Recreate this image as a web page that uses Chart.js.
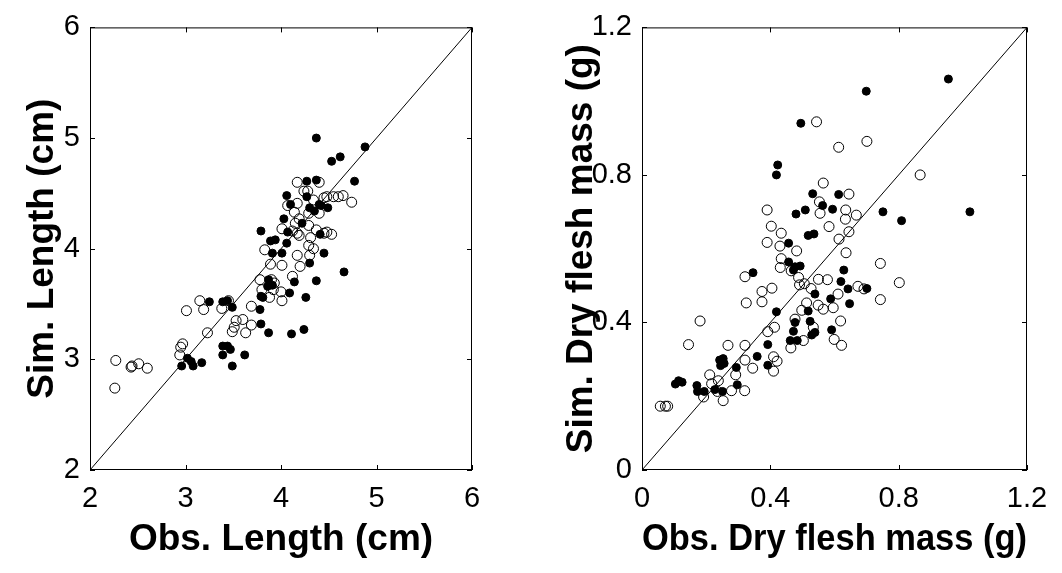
<!DOCTYPE html>
<html>
<head>
<meta charset="utf-8">
<script src="https://cdn.jsdelivr.net/npm/chart.js@4/dist/chart.umd.min.js"></script>
<style>
    body { margin: 0; background: #fff; }
    .panel { position: absolute; top: 0; width: 531px; height: 573px; }
</style>
</head>
<body>
<div class="panel" style="left:0"><canvas id="lengthChart" width="531" height="573"></canvas></div>
<div class="panel" style="left:531px"><canvas id="massChart" width="531" height="573"></canvas></div>
<script>
// shell length (cm): observed vs simulated
const lengthTicks = [2, 3, 4, 5, 6];
const lenObsFilled = [4.37, 4.88, 4.53, 4.62, 4.77, 4.27, 4.37, 4.06, 4.27, 4.10, 4.30, 4.40, 4.35, 4.42, 4.49, 4.41, 4.03, 4.07, 4.22, 3.79, 3.89, 3.94, 4.06, 3.91, 4.01, 4.45, 4.30, 4.66, 3.87, 4.14, 4.37, 3.79, 4.09, 4.26, 3.78, 3.79, 3.87, 4.11, 4.24, 3.25, 3.39, 3.44, 3.49, 3.39, 3.44, 3.47, 3.39, 3.62, 3.49, 3.17, 2.96, 3.02, 3.06, 3.08, 3.91, 3.86, 3.81];
const lenSimFilled = [5.00, 4.92, 4.79, 4.83, 4.61, 4.61, 4.62, 4.48, 4.47, 4.40, 4.37, 4.40, 4.34, 4.39, 4.37, 4.13, 4.27, 4.15, 4.23, 4.16, 4.07, 4.08, 4.05, 3.96, 3.96, 3.96, 3.87, 3.79, 3.72, 3.70, 3.71, 3.57, 3.60, 3.56, 3.45, 3.32, 3.24, 3.23, 3.27, 3.52, 3.52, 3.53, 3.47, 3.12, 3.12, 3.09, 3.04, 3.04, 2.94, 2.97, 2.94, 3.01, 2.98, 2.94, 3.67, 3.66, 3.56];
const lenObsOpen = [2.27, 2.26, 2.43, 2.44, 2.51, 2.60, 2.97, 2.95, 2.94, 3.01, 3.15, 3.19, 3.23, 3.38, 3.45, 3.69, 3.53, 3.60, 3.51, 3.49, 3.63, 3.69, 3.78, 3.80, 3.88, 3.90, 3.93, 3.92, 4.00, 4.01, 3.83, 3.89, 4.01, 4.12, 4.17, 4.20, 4.30, 4.34, 4.29, 4.31, 4.01, 4.12, 4.17, 4.19, 4.07, 4.17, 4.14, 4.19, 4.15, 4.29, 4.37, 4.45, 4.48, 4.53, 4.17, 4.24, 4.28, 4.40, 4.34, 4.45, 4.40, 4.55, 4.60, 4.65, 4.74, 4.48, 4.29];
const lenSimOpen = [2.99, 2.74, 2.93, 2.94, 2.96, 2.92, 3.14, 3.11, 3.04, 3.44, 3.53, 3.45, 3.24, 3.46, 3.53, 3.48, 3.35, 3.36, 3.29, 3.25, 3.24, 3.31, 3.72, 3.63, 3.56, 3.72, 3.69, 3.63, 3.61, 3.53, 3.99, 3.86, 3.85, 3.75, 3.94, 3.84, 3.94, 4.00, 4.03, 4.10, 4.18, 4.16, 4.14, 4.12, 4.39, 4.41, 4.33, 4.27, 4.23, 4.21, 4.17, 4.14, 4.15, 4.13, 4.60, 4.52, 4.52, 4.60, 4.44, 4.46, 4.32, 4.47, 4.47, 4.48, 4.42, 4.47, 4.32];

// dry flesh mass (g): observed vs simulated
const massTicks = [0, 0.4, 0.8, 1.2];
const massObsFilled = [0.955, 0.699, 0.495, 0.423, 0.419, 1.022, 0.751, 0.809, 0.532, 0.613, 0.563, 0.594, 0.509, 0.480, 0.518, 0.536, 0.457, 0.457, 0.477, 0.493, 0.472, 0.346, 0.629, 0.620, 0.642, 0.701, 0.647, 0.539, 0.588, 0.419, 0.518, 0.477, 0.472, 0.524, 0.591, 0.462, 0.484, 0.529, 0.539, 0.392, 0.359, 0.392, 0.294, 0.242, 0.253, 0.245, 0.256, 0.297, 0.104, 0.114, 0.125, 0.171, 0.173, 0.194, 0.227, 0.251];
const massSimFilled = [1.060, 1.027, 0.940, 0.827, 0.800, 0.700, 0.700, 0.676, 0.749, 0.747, 0.717, 0.707, 0.705, 0.694, 0.636, 0.640, 0.615, 0.564, 0.551, 0.553, 0.542, 0.535, 0.542, 0.511, 0.491, 0.492, 0.451, 0.477, 0.464, 0.429, 0.431, 0.400, 0.376, 0.403, 0.380, 0.351, 0.351, 0.366, 0.373, 0.340, 0.308, 0.284, 0.278, 0.298, 0.302, 0.283, 0.289, 0.231, 0.233, 0.242, 0.238, 0.229, 0.213, 0.213, 0.218, 0.213];
const massObsOpen = [0.544, 0.701, 0.613, 0.867, 0.565, 0.645, 0.553, 0.555, 0.635, 0.634, 0.668, 0.390, 0.403, 0.434, 0.390, 0.583, 0.645, 0.614, 0.430, 0.434, 0.431, 0.482, 0.636, 0.743, 0.321, 0.465, 0.488, 0.550, 0.578, 0.491, 0.506, 0.802, 0.405, 0.374, 0.374, 0.325, 0.527, 0.673, 0.692, 0.611, 0.743, 0.513, 0.549, 0.565, 0.596, 0.498, 0.477, 0.181, 0.413, 0.392, 0.534, 0.619, 0.503, 0.599, 0.622, 0.464, 0.145, 0.268, 0.321, 0.321, 0.345, 0.410, 0.421, 0.410, 0.292, 0.211, 0.238, 0.217, 0.235, 0.279, 0.320, 0.253, 0.192, 0.057, 0.073, 0.080];
const massSimOpen = [0.944, 0.891, 0.875, 0.800, 0.778, 0.748, 0.727, 0.696, 0.705, 0.680, 0.691, 0.705, 0.661, 0.642, 0.617, 0.660, 0.646, 0.626, 0.607, 0.573, 0.549, 0.594, 0.589, 0.560, 0.524, 0.540, 0.522, 0.517, 0.516, 0.502, 0.505, 0.508, 0.493, 0.484, 0.456, 0.453, 0.492, 0.498, 0.491, 0.477, 0.462, 0.453, 0.447, 0.436, 0.440, 0.433, 0.409, 0.404, 0.387, 0.375, 0.387, 0.404, 0.351, 0.354, 0.338, 0.331, 0.340, 0.338, 0.338, 0.298, 0.276, 0.307, 0.295, 0.268, 0.258, 0.258, 0.242, 0.234, 0.213, 0.215, 0.215, 0.188, 0.198, 0.173, 0.173, 0.173];

const FONT = "'Liberation Sans', Arial, sans-serif";

function toPoints(xs, ys) {
    return xs.map((x, i) => ({ x: x, y: ys[i] }));
}

// box around the plot area with small inward ticks on all four sides
const framePlugin = {
    id: 'frame',
    afterDraw(chart) {
        const ctx = chart.ctx;
        const a = chart.chartArea;
        const len = 5;
        ctx.save();
        ctx.strokeStyle = '#000';
        ctx.lineWidth = 1;
        ctx.strokeRect(a.left + 0.5, a.top + 0.5, a.right - a.left - 1, a.bottom - a.top - 1);
        ctx.beginPath();
        chart.scales.x.ticks.forEach(t => {
            const px = Math.round(chart.scales.x.getPixelForValue(t.value)) + 0.5;
            ctx.moveTo(px, a.bottom); ctx.lineTo(px, a.bottom - len);
            ctx.moveTo(px, a.top); ctx.lineTo(px, a.top + len);
        });
        chart.scales.y.ticks.forEach(t => {
            const py = Math.round(chart.scales.y.getPixelForValue(t.value)) + 0.5;
            ctx.moveTo(a.left, py); ctx.lineTo(a.left + len, py);
            ctx.moveTo(a.right, py); ctx.lineTo(a.right - len, py);
        });
        ctx.stroke();
        ctx.restore();
    }
};

function makeChart(canvasId, cfg) {
    const tickValues = cfg.ticks;
    const lo = tickValues[0];
    const hi = tickValues[tickValues.length - 1];
    return new Chart(document.getElementById(canvasId), {
        type: 'scatter',
        data: {
            datasets: [
                {
                    type: 'line',
                    data: [{ x: lo, y: lo }, { x: hi, y: hi }],
                    borderColor: '#000',
                    borderWidth: 1,
                    pointRadius: 0,
                    fill: false
                },
                {
                    data: toPoints(cfg.obsFilled, cfg.simFilled),
                    pointRadius: 4,
                    pointBorderWidth: 1,
                    pointBackgroundColor: '#000',
                    pointBorderColor: '#000'
                },
                {
                    data: toPoints(cfg.obsOpen, cfg.simOpen),
                    pointRadius: 5,
                    pointBorderWidth: 1,
                    pointBackgroundColor: 'rgba(0,0,0,0)',
                    pointBorderColor: '#000'
                }
            ]
        },
        options: {
            responsive: false,
            animation: false,
            layout: { padding: { left: cfg.padLeft, right: cfg.padRight, top: 20, bottom: 0 } },
            plugins: {
                legend: { display: false },
                tooltip: { enabled: false }
            },
            scales: {
                x: {
                    type: 'linear',
                    min: lo,
                    max: hi,
                    afterBuildTicks: s => { s.ticks = tickValues.map(v => ({ value: v })); },
                    afterFit: s => { s.height = 103; },
                    grid: { display: false, drawTicks: false },
                    border: { display: false },
                    ticks: { color: '#000', padding: 12, maxRotation: 0, font: { family: FONT, size: 29 } },
                    title: {
                        display: true,
                        text: cfg.xTitle,
                        color: '#000',
                        padding: { top: 0, bottom: 11 },
                        font: { family: FONT, size: 37, weight: 'bold' }
                    }
                },
                y: {
                    type: 'linear',
                    min: lo,
                    max: hi,
                    afterBuildTicks: s => { s.ticks = tickValues.map(v => ({ value: v })); },
                    afterFit: s => { s.width = cfg.yWidth; },
                    grid: { display: false, drawTicks: false },
                    border: { display: false },
                    ticks: { color: '#000', padding: 10, font: { family: FONT, size: 29 } },
                    title: {
                        display: true,
                        text: cfg.yTitle,
                        color: '#000',
                        padding: 0,
                        font: { family: FONT, size: 37, weight: 'bold' }
                    }
                }
            }
        },
        plugins: [framePlugin]
    });
}

makeChart('lengthChart', {
    ticks: lengthTicks,
    obsFilled: lenObsFilled, simFilled: lenSimFilled,
    obsOpen: lenObsOpen, simOpen: lenSimOpen,
    xTitle: 'Obs. Length (cm)',
    yTitle: 'Sim. Length (cm)',
    padLeft: 21, yWidth: 69, padRight: 59
});

makeChart('massChart', {
    ticks: massTicks,
    obsFilled: massObsFilled, simFilled: massSimFilled,
    obsOpen: massObsOpen, simOpen: massSimOpen,
    xTitle: 'Obs. Dry flesh mass (g)',
    yTitle: 'Sim. Dry flesh mass (g)',
    padLeft: 29, yWidth: 82, padRight: 35
});
</script>
</body>
</html>
